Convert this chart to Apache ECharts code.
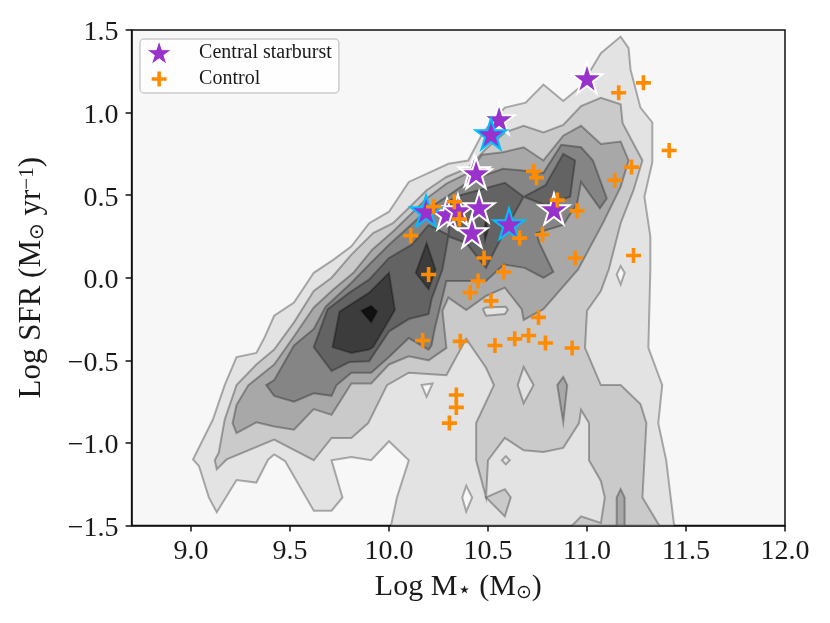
<!DOCTYPE html>
<html><head><meta charset="utf-8">
<style>html,body{margin:0;padding:0;background:#fff}#c{width:830px;height:623px}</style>
<script src="https://cdn.jsdelivr.net/npm/echarts@6/dist/echarts.min.js"></script>
</head><body><div id="c"></div>
<script>
const starburstWhite = [[11.0,1.21],[10.556,0.962],[10.43,0.647],[10.44,0.635],[10.293,0.387],[10.348,0.411],[10.455,0.429],[10.419,0.278],[10.833,0.417]];
const starburstCyan = [[10.515,0.871],[10.187,0.405],[10.606,0.326]];
const control = [[11.285,1.18],[11.16,1.12],[11.415,0.77],[10.73,0.645],[10.745,0.605],[11.225,0.67],[11.14,0.59],[10.225,0.43],[10.33,0.46],[10.355,0.355],[10.85,0.47],[10.95,0.405],[10.66,0.24],[10.775,0.26],[10.11,0.255],[10.94,0.12],[11.235,0.135],[10.48,0.12],[10.58,0.035],[10.2,0.02],[10.45,-0.02],[10.41,-0.09],[10.515,-0.14],[10.755,-0.24],[10.36,-0.385],[10.535,-0.41],[10.635,-0.37],[10.705,-0.35],[10.79,-0.395],[10.925,-0.425],[10.17,-0.38],[10.34,-0.71],[10.34,-0.785],[10.305,-0.88]];

const level1 = [[9.01,-1.1],[9.11,-0.86],[9.17,-0.65],[9.23,-0.48],[9.33,-0.455],[9.37,-0.365],[9.42,-0.23],[9.52,-0.15],[9.62,0.03],[9.72,0.11],[9.81,0.19],[9.9,0.33],[10,0.4],[10.1,0.58],[10.2,0.635],[10.3,0.69],[10.4,0.71],[10.475,0.88],[10.585,1.03],[10.69,1.06],[10.78,1.17],[10.88,1.07],[10.97,1.16],[11.07,1.36],[11.17,1.46],[11.21,1.39],[11.22,1.26],[11.27,1.03],[11.33,0.94],[11.33,0.7],[11.29,0.49],[11.32,0.25],[11.32,0.05],[11.31,-0.425],[11.38,-0.65],[11.36,-0.88],[11.4,-1.105],[11.44,-1.5],[10.01,-1.5],[10.04,-1.33],[10.1,-1.105],[10,-0.99],[9.91,-1.105],[9.81,-1.085],[9.71,-1.105],[9.765,-1.33],[9.71,-1.41],[9.62,-1.41],[9.475,-1.11],[9.42,-1.07],[9.39,-1.1],[9.33,-1.24],[9.23,-1.225],[9.13,-1.42],[9.09,-1.33],[9.04,-1.14]];
const holes0 = [
 [[10.39,-1.26],[10.37,-1.33],[10.39,-1.415],[10.42,-1.33]],
 [[11.17,0.07],[11.15,0.02],[11.17,-0.04],[11.19,0.03]],
 [[10.165,-0.65],[10.22,-0.64],[10.19,-0.72]]
];
const level2 = [[9.12,-1.105],[9.14,-1.06],[9.17,-0.86],[9.23,-0.65],[9.33,-0.525],[9.42,-0.435],[9.52,-0.27],[9.62,-0.08],[9.71,0],[9.81,0.14],[9.92,0.27],[10.02,0.33],[10.115,0.44],[10.19,0.53],[10.29,0.61],[10.4,0.665],[10.485,0.775],[10.585,0.88],[10.68,0.92],[10.78,0.88],[10.88,0.925],[10.97,1.04],[11.07,1.09],[11.17,1.05],[11.18,0.935],[11.28,0.71],[11.235,0.53],[11.17,0.33],[11.11,0.05],[11.07,-0.08],[11,-0.2],[10.99,-0.425],[11.07,-0.65],[11.17,-0.65],[11.27,-0.765],[11.3,-0.88],[11.28,-1.33],[11.365,-1.5],[10.925,-1.5],[10.97,-1.445],[11.07,-1.485],[11.09,-1.33],[11.07,-1.23],[11.01,-1.105],[11.01,-0.88],[10.97,-0.8],[10.96,-0.88],[10.88,-1.03],[10.78,-1.055],[10.68,-1.045],[10.585,-0.97],[10.5,-1.105],[10.49,-1.33],[10.44,-1.105],[10.44,-0.88],[10.53,-0.65],[10.49,-0.545],[10.39,-0.37],[10.29,-0.59],[10.1,-0.575],[9.99,-0.65],[9.895,-0.88],[9.81,-0.97],[9.71,-0.97],[9.62,-1.105],[9.42,-0.98],[9.18,-1.1],[9.13,-1.16]];
const level2Extra = [[[10.49,-1.33],[10.585,-1.28],[10.615,-1.33],[10.585,-1.445]]];
const holes1 = [
 [[10.68,-0.54],[10.65,-0.65],[10.68,-0.76],[10.73,-0.65]],
 [[10.59,-1.08],[10.57,-1.105],[10.59,-1.13],[10.61,-1.105]],
 [[10.475,-0.19],[10.49,-0.18],[10.59,-0.175],[10.6,-0.195],[10.585,-0.22],[10.49,-0.23]]
];
const level3 = [[9.23,-0.94],[9.21,-0.88],[9.23,-0.77],[9.29,-0.65],[9.42,-0.525],[9.52,-0.355],[9.62,-0.18],[9.72,-0.07],[9.82,0.03],[9.915,0.17],[10.02,0.28],[10.115,0.39],[10.19,0.48],[10.29,0.57],[10.4,0.635],[10.47,0.745],[10.575,0.76],[10.68,0.79],[10.78,0.71],[10.88,0.86],[10.97,0.92],[11.07,0.81],[11.17,0.825],[11.21,0.71],[11.17,0.55],[11.08,0.33],[10.955,0.05],[10.78,-0.19],[10.68,-0.255],[10.67,-0.19],[10.585,-0.06],[10.49,-0.11],[10.39,-0.195],[10.3,-0.12],[10.27,-0.2],[10.29,-0.425],[10.2,-0.5],[10.1,-0.475],[10,-0.525],[9.91,-0.64],[9.81,-0.64],[9.71,-0.83],[9.62,-0.795],[9.52,-0.92],[9.42,-0.9],[9.33,-0.875]];
const level3Extra = [
 [[10.88,-0.6],[10.9,-0.65],[10.88,-0.875],[10.85,-0.65]],
 [[11.17,-1.28],[11.19,-1.33],[11.19,-1.5],[11.15,-1.5],[11.15,-1.33]]
];
const level4 = [[9.38,-0.65],[9.42,-0.62],[9.52,-0.41],[9.62,-0.31],[9.68,-0.175],[9.81,-0.03],[9.9,0.08],[10,0.2],[10.11,0.32],[10.2,0.42],[10.29,0.49],[10.41,0.59],[10.575,0.66],[10.675,0.65],[10.78,0.635],[10.87,0.805],[10.97,0.79],[11.03,0.71],[11.1,0.48],[11.065,0.42],[10.97,0.58],[10.95,0.45],[10.88,0.32],[10.745,0.27],[10.76,0.21],[10.83,0.035],[10.78,0],[10.685,0.06],[10.58,0.08],[10.49,-0.02],[10.29,-0.02],[10.23,-0.315],[10.215,-0.41],[10.2,-0.435],[10.1,-0.365],[10,-0.48],[9.91,-0.575],[9.81,-0.575],[9.735,-0.65],[9.71,-0.715],[9.62,-0.7],[9.52,-0.75],[9.42,-0.715]];
const level5 = [[9.62,-0.42],[9.69,-0.19],[9.8,-0.09],[9.9,-0.01],[10,0.12],[10.115,0.2],[10.2,0.32],[10.3,0.26],[10.31,0.47],[10.36,0.5],[10.585,0.575],[10.68,0.49],[10.79,0.56],[10.88,0.75],[10.94,0.71],[10.915,0.49],[10.79,0.44],[10.68,0.49],[10.575,0.26],[10.49,0.06],[10.39,0.21],[10.3,0.25],[10.27,0.05],[10.215,-0.13],[10.2,-0.22],[10.1,-0.25],[10,-0.325],[9.9,-0.505],[9.8,-0.51],[9.71,-0.565]];
const level6 = [
 [[10,0.03],[10.03,-0.195],[9.92,-0.42],[9.9,-0.435],[9.81,-0.455],[9.715,-0.42],[9.75,-0.205],[9.9,-0.09]],
 [[10.19,0.21],[10.135,0.03],[10.2,-0.07],[10.235,0.05]],
 [[10.49,0.35],[10.48,0.29],[10.485,0.23],[10.5,0.29]]
];
const level7 = [[9.86,-0.2],[9.91,-0.17],[9.94,-0.205],[9.91,-0.27]];
const xTicks = [9,9.5,10,10.5,11,11.5,12];

const BG='#f7f7f7',C1='#e3e3e3',C2='#cacaca',C3='#a8a8a8',C4='#858585',C5='#636363',C6='#3c3c3c',C7='#111111';
const polygons = [
 [level1,C1],...holes0.map(p=>[p,BG]),
 [level2,C2],...level2Extra.map(p=>[p,C2]),...holes1.map(p=>[p,C1]),
 [level3,C3],...level3Extra.map(p=>[p,C3]),
 [level4,C4],[level5,C5],...level6.map(p=>[p,C6]),[level7,C7]
];
const STAR='path://M50 0 L61.8 36.3 L100 36.3 L69.1 58.8 L80.9 95.1 L50 72.6 L19.1 95.1 L30.9 58.8 L0 36.3 L38.2 36.3 Z';
const PLUS='path://M38 0 H62 V38 H100 V62 H62 V100 H38 V62 H0 V38 H38 Z';
const LEGEND_PLUS='path://M-30 -30 h0.01 M130 130 h0.01 M38 0 H62 V38 H100 V62 H62 V100 H38 V62 H0 V38 H38 Z';
const SERIF='"Liberation Serif","DejaVu Serif",serif';
const INK='#1a1a1a';
const fmt=v=>Number(v).toFixed(1).replace('-','\u2212');

const chart=echarts.init(document.getElementById('c'),null,{renderer:'canvas'});
chart.setOption({
 animation:false,backgroundColor:'#fff',
 grid:{left:131.6,right:45,top:30,bottom:97.5,show:true,backgroundColor:BG,borderColor:'#111',borderWidth:1.5,z:0},
 xAxis:{type:'value',min:8.7,max:12,
  axisLine:{show:true,onZero:false,lineStyle:{color:'#111',width:1.5}},splitLine:{show:false},
  axisTick:{show:true,length:6,inside:false,customValues:xTicks,lineStyle:{color:'#111',width:1.5}},
  axisLabel:{customValues:xTicks,formatter:fmt,fontFamily:SERIF,fontSize:28,color:INK,margin:12},
  name:'{t|Log M}{k|\u22C6}{t| (M}{s|\u2299}{t|)}',nameLocation:'middle',nameGap:47,
  nameTextStyle:{rich:{t:{fontFamily:SERIF,fontSize:30,color:INK},s:{fontFamily:'DejaVu Sans',fontSize:19,color:INK,verticalAlign:'bottom',lineHeight:30},k:{fontFamily:'DejaVu Sans',fontSize:23,color:INK,verticalAlign:'bottom',lineHeight:30}}}
 },
 yAxis:{type:'value',min:-1.5,max:1.5,interval:0.5,
  axisLine:{show:true,onZero:false,lineStyle:{color:'#111',width:1.5}},splitLine:{show:false},
  axisTick:{show:true,length:6,inside:false,lineStyle:{color:'#111',width:1.5}},
  axisLabel:{formatter:fmt,fontFamily:SERIF,fontSize:28,color:INK,margin:13,verticalAlign:'top',lineHeight:6},
  name:'{t|Log SFR (M}{s|\u2299}{t| yr}{u|\u22121}{t|)}',nameLocation:'middle',nameGap:84,nameRotate:90,
  nameTextStyle:{rich:{t:{fontFamily:SERIF,fontSize:31,color:INK},s:{fontFamily:'DejaVu Sans',fontSize:20,color:INK,verticalAlign:'bottom',lineHeight:31},u:{fontFamily:SERIF,fontSize:21,color:INK,verticalAlign:'top',lineHeight:31}}}
 },
 legend:{left:140,top:39,orient:'vertical',padding:[1,7,2,6],itemGap:2,itemWidth:40,itemHeight:24,
  backgroundColor:'rgba(255,255,255,0.8)',borderColor:'#cccccc',borderWidth:1.5,borderRadius:4,
  textStyle:{fontFamily:SERIF,fontSize:20,color:INK,padding:[0,0,0,15]},
  data:[{name:'Central starburst',icon:STAR,itemStyle:{color:'#9932cc',borderColor:'#fff',borderWidth:1}},{name:'Control',icon:LEGEND_PLUS,itemStyle:{color:'#ff8c00',borderWidth:0}}]
 },
 series:[
  {type:'custom',name:'contours',coordinateSystem:'cartesian2d',silent:true,z:1,clip:true,
   data:polygons.map((p,i)=>[i]),encode:{x:[],y:[]},
   renderItem:(params,api)=>{
     const p=polygons[api.value(0)];
     return {type:'polygon',shape:{points:p[0].map(q=>api.coord(q))},
       style:{fill:p[1],stroke:'rgba(0,0,0,0.3)',lineWidth:2,lineJoin:'miter'}};
   }},
  {type:'scatter',name:'Central starburst',data:starburstWhite,symbol:STAR,symbolSize:31,z:3,
   itemStyle:{color:'#9932cc',opacity:1,borderColor:'#fff',borderWidth:2}},
  {type:'scatter',name:'Central starburst',data:starburstCyan,symbol:STAR,symbolSize:31,z:4,
   itemStyle:{color:'#9932cc',opacity:1,borderColor:'#00bfff',borderWidth:2}},
  {type:'scatter',name:'Control',data:control,symbol:PLUS,symbolSize:15,z:5,
   itemStyle:{color:'#ff8c00',opacity:1,borderWidth:0}}
 ]
});
</script></body></html>
